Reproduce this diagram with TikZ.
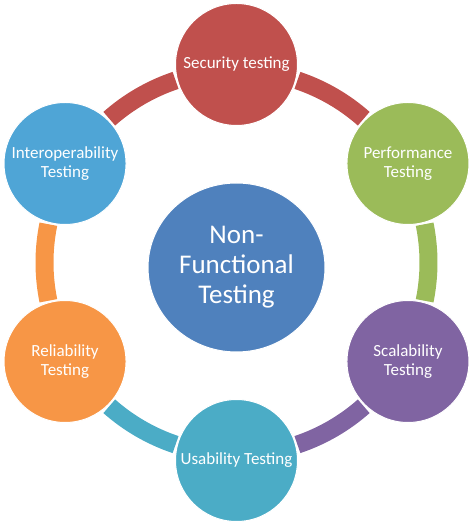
\documentclass[tikz,border=0pt]{standalone}
\usepackage{fontspec}
\setmainfont{Carlito}
\usetikzlibrary{shapes.geometric}
\definecolor{cRed}{HTML}{C0504D}
\definecolor{cGreen}{HTML}{9BBB59}
\definecolor{cPurple}{HTML}{8064A2}
\definecolor{cTeal}{HTML}{4BACC6}
\definecolor{cOrange}{HTML}{F79646}
\definecolor{cBlue}{HTML}{4F81BD}
\definecolor{cSky}{HTML}{4FA5D6}
\tikzset{
  outer/.style={circle, fill=#1, draw=white, line width=1pt, minimum size=122pt, inner sep=0pt,
    text=white, align=center, font=\fontsize{17}{19}\selectfont},
  hub/.style={ellipse, fill=cBlue, draw=white, line width=1pt, minimum width=177pt, minimum height=169pt,
    inner sep=0pt, text=white, align=center, font=\fontsize{27}{30}\selectfont},
  band/.style={line width=18pt, line cap=butt, draw=#1}
}
\begin{document}
\begin{tikzpicture}[x=1pt,y=1pt]
\useasboundingbox (0,0) rectangle (474,527);
\coordinate (C) at (236.5,264.5);
% ring segments
\draw[band=cRed] ([shift={(71.5:192)}]C) arc[start angle=71.5, end angle=48.5, radius=192];
\draw[band=cGreen] ([shift={(11.5:192)}]C) arc[start angle=11.5, end angle=-11.5, radius=192];
\draw[band=cPurple] ([shift={(-48.5:192)}]C) arc[start angle=-48.5, end angle=-71.5, radius=192];
\draw[band=cTeal] ([shift={(-108.5:192)}]C) arc[start angle=-108.5, end angle=-131.5, radius=192];
\draw[band=cOrange] ([shift={(-168.5:192)}]C) arc[start angle=-168.5, end angle=-191.5, radius=192];
\draw[band=cRed] ([shift={(131.5:192)}]C) arc[start angle=131.5, end angle=108.5, radius=192];
% nodes
\node[hub] (hub) at (236.5,259.5) {Non-\\Functional\\Testing};
\node[outer=cRed] (sec) at ([shift={(90:198)}]C) {Security testing};
\node[outer=cGreen] (perf) at ([shift={(30:198)}]C) {Performance\\Testing};
\node[outer=cPurple] (scal) at ([shift={(-30:198)}]C) {Scalability\\Testing};
\node[outer=cTeal] (usab) at ([shift={(-90:198)}]C) {Usability Testing};
\node[outer=cOrange] (rel) at ([shift={(210:198)}]C) {Reliability\\Testing};
\node[outer=cSky] (inter) at ([shift={(150:198)}]C) {Interoperability\\Testing};
\end{tikzpicture}
\end{document}
